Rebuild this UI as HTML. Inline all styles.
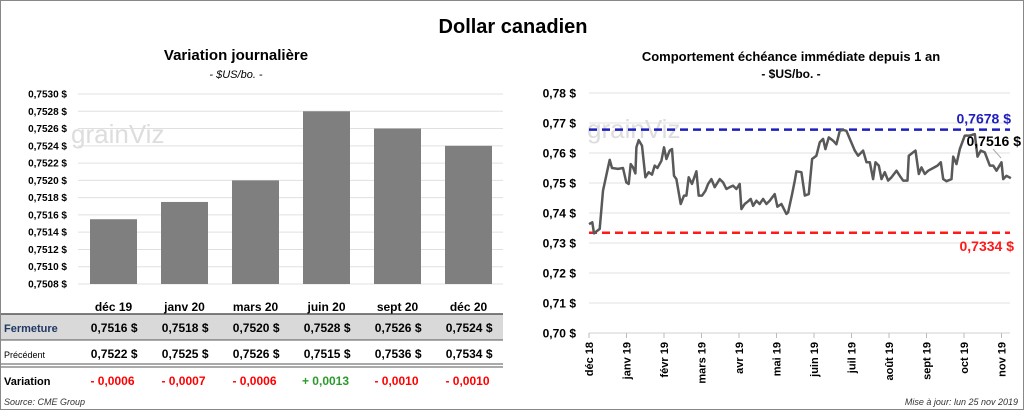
<!DOCTYPE html>
<html><head><meta charset="utf-8"><style>
body{margin:0;background:#fff;font-family:"Liberation Sans",sans-serif}
#wrap{position:relative;width:1022px;height:408px;border:1px solid #888;overflow:hidden}
svg text{font-family:"Liberation Sans",sans-serif}
</style></head><body>
<div id="wrap">
<svg id="s" width="1022" height="408" xmlns="http://www.w3.org/2000/svg">
<text x="512" y="32" text-anchor="middle" font-size="20" font-weight="bold">Dollar canadien</text>
<text x="235" y="59" text-anchor="middle" font-size="15" font-weight="bold">Variation  journalière</text>
<text x="235" y="77" text-anchor="middle" font-size="11" font-style="italic">- $US/bo. -</text>
<text x="790" y="60" text-anchor="middle" font-size="13" font-weight="bold">Comportement échéance immédiate depuis 1 an</text>
<text x="790" y="77" text-anchor="middle" font-size="12" font-weight="bold">- $US/bo. -</text>
<text x="70" y="142" font-size="26" fill="#ddd">grainViz</text>
<text x="586" y="137" font-size="26" fill="#ddd">grainViz</text>
<g id="left"></g><g id="right"></g>
<text x="3" y="404" font-size="9" font-style="italic" fill="#333">Source: CME Group</text>
<text x="1017" y="404" text-anchor="end" font-size="9" font-style="italic" fill="#333">Mise à jour: lun 25 nov 2019</text>
</svg></div>
<script>
const NS="http://www.w3.org/2000/svg";
const barCats=["déc 19","janv 20","mars 20","juin 20","sept 20","déc 20"];
const closeVals=[0.75155,0.75175,0.7520,0.7528,0.7526,0.7524];
const closeLabels=["0,7516","0,7518","0,7520","0,7528","0,7526","0,7524"];
const prevLabels=["0,7522","0,7525","0,7526","0,7515","0,7536","0,7534"];
const varLabels=["- 0,0006","- 0,0007","- 0,0006","+ 0,0013","- 0,0010","- 0,0010"];
const barTicks=[0.7508,0.7510,0.7512,0.7514,0.7516,0.7518,0.7520,0.7522,0.7524,0.7526,0.7528,0.7530];
const lineTicks=[0.70,0.71,0.72,0.73,0.74,0.75,0.76,0.77,0.78];
const monthLabels=["déc 18","janv 19","févr 19","mars 19","avr 19","mai 19","juin 19","juil 19","août 19","sept 19","oct 19","nov 19"];
const zx=[203,213,218,235,245,258,265,272,290,305,315,322,328,335,342,345,352,362,372,382,392,400,408,420,428,435,445,452,458,465,478,488,495,502,512,525,532,542,552,560,570,580,595,605,615,625,635,645,655,660,670,680,688,695,705,715,725,735,745,760,768,780,795,800,812,820,825,840,850,862,872,885,895,905,912,922,935,945,955,965,975,985,1000,1010,1025,1035,1045,1055,1062,1072,1080,1090,1100,1110,1125,1135,1145,1158,1162,1175,1182,1192,1200,1210,1220,1235,1248,1258,1265,1275,1290,1295,1305,1315,1330,1345,1360,1368,1378,1390,1405,1415,1425,1440,1445,1455,1468];
const monthPos=zx.map(v=>(v-203)/112.45);
const lineVals=[0.7363,0.7369,0.7332,0.7347,0.7474,0.7541,0.7577,0.755,0.7547,0.755,0.7502,0.7497,0.7563,0.7552,0.7532,0.7619,0.7643,0.7624,0.7519,0.7536,0.7528,0.7558,0.755,0.7574,0.7619,0.758,0.7608,0.7613,0.7524,0.7513,0.743,0.7458,0.7458,0.7519,0.7497,0.7539,0.7458,0.7458,0.7474,0.7497,0.7513,0.7486,0.7513,0.7502,0.748,0.7486,0.7491,0.748,0.7497,0.7413,0.743,0.7439,0.7447,0.7424,0.7441,0.743,0.7447,0.743,0.7441,0.7463,0.7421,0.743,0.7397,0.7402,0.7463,0.7508,0.7539,0.7536,0.7458,0.7463,0.758,0.7591,0.7636,0.7647,0.7613,0.7652,0.7641,0.7629,0.7674,0.7677,0.7674,0.7647,0.7608,0.7591,0.7608,0.7569,0.7569,0.7513,0.7569,0.7558,0.7513,0.7536,0.7508,0.7519,0.7541,0.7524,0.7508,0.7508,0.7591,0.7602,0.7608,0.753,0.7552,0.753,0.7541,0.755,0.7558,0.7569,0.7513,0.7506,0.7513,0.7588,0.7563,0.7613,0.7658,0.7658,0.7663,0.7588,0.7608,0.7602,0.7558,0.7558,0.7541,0.7569,0.7513,0.7524,0.7516];
const highVal=0.7678, lowVal=0.7334, lastVal=0.7516;
const fr=v=>v.toFixed(2).replace('.',',');
function el(t,a,p,txt){const e=document.createElementNS(NS,t);for(const k in a)e.setAttribute(k,a[k]);if(txt!==undefined)e.textContent=txt;p.appendChild(e);return e;}
// LEFT bar chart
const L=document.getElementById('left');
const ly=v=>283-(v-0.7508)/(0.7530-0.7508)*190;
const bx=i=>77+71*i+35.5;
barTicks.forEach(t=>{
 const g=el('line',{x1:77,x2:502,y1:ly(t),y2:ly(t),stroke:'#e0e0e0','stroke-width':1},L);
 
 const tx=el('text',{x:66,y:ly(t)+3.5,'text-anchor':'end','font-size':10,'font-weight':'bold'},L,t.toFixed(4).replace('.',',')+' $');
 
});
el('rect',{x:0,y:313,width:502,height:26,fill:'#d9d9d9'},L);
[[313,1.5],[339,1],[363,1],[366,1]].forEach(([y,w])=>{const l=el('line',{x1:0,x2:502,y1:y,y2:y,stroke:'#555','stroke-width':w},L);});
el('text',{x:3,y:331,'font-size':11,fill:'#1f3864','font-weight':'bold'},L,'Fermeture');
el('text',{x:3,y:357,'font-size':9},L,'Précédent');
el('text',{x:3,y:384,'font-size':11,'font-weight':'bold'},L,'Variation');
closeVals.forEach((v,i)=>{
 const r=el('rect',{x:bx(i)-23.5,y:ly(v),width:47,height:283-ly(v),fill:'#7f7f7f'},L);
 
 const c=el('text',{x:bx(i),y:310,'text-anchor':'middle','font-size':12,'font-weight':'bold'},L,barCats[i]);
 
 const a=el('text',{x:bx(i)+24,y:331,'text-anchor':'end','font-size':12,'font-weight':'bold'},L,closeLabels[i]+'  $');
 
 const b=el('text',{x:bx(i)+24,y:357,'text-anchor':'end','font-size':12,'font-weight':'bold'},L,prevLabels[i]+'  $');
 
 const d=el('text',{x:bx(i)-1,y:384,'text-anchor':'middle','font-size':12,'font-weight':'bold',fill:varLabels[i][0]=='+'?'#2a9a2a':'#ff0000'},L,varLabels[i]);
 
});
// RIGHT line chart
const R=document.getElementById('right');
const x0=588,mw=37.5;
const rx=m=>x0+m*mw;
const ry=v=>332-(v-0.70)/0.08*240;
lineTicks.forEach(t=>{
 const g=el('line',{x1:588,x2:1009,y1:ry(t),y2:ry(t),stroke:'#e0e0e0'},R);
 
 const tx=el('text',{x:575,y:ry(t)+4.5,'text-anchor':'end','font-size':12,'font-weight':'bold'},R,fr(t)+' $');
 
});
el('line',{x1:588,x2:1009,y1:332,y2:332,stroke:'#d0d0d0'},R);
monthLabels.forEach((m,i)=>{
 const x=rx(i);
 const tk=el('line',{x1:x,x2:x,y1:332,y2:337,stroke:'#bbb'},R);
 
 const t=el('text',{transform:`translate(${x+4},341) rotate(-90)`,'text-anchor':'end','font-size':11,'font-weight':'bold'},R,m);
 
});
const hl=el('line',{x1:588,x2:1009,y1:ry(highVal),y2:ry(highVal),stroke:'#1f1fbf','stroke-width':2.5,'stroke-dasharray':'8,5'},R);

const ll=el('line',{x1:588,x2:1009,y1:ry(lowVal),y2:ry(lowVal),stroke:'#ff1a1a','stroke-width':2.5,'stroke-dasharray':'8,5'},R);

const d=lineVals.map((v,i)=>(i?'L':'M')+rx(monthPos[i]).toFixed(1)+','+ry(v).toFixed(1)).join('');
const pl=el('path',{d:d,fill:'none',stroke:'#595959','stroke-width':2.5,'stroke-linejoin':'round'},R);

const ht=el('text',{x:1010,y:ry(highVal)-6,'text-anchor':'end','font-size':14,'font-weight':'bold',fill:'#1f1fbf'},R,fr(highVal).replace(/,(\d\d)$/,',$1')+'');
ht.textContent=highVal.toFixed(4).replace('.',',')+' $';

const lt=el('text',{x:1013,y:ry(lowVal)+18,'text-anchor':'end','font-size':14,'font-weight':'bold',fill:'#ff1a1a'},R,lowVal.toFixed(4).replace('.',',')+' $');

el('line',{x1:992,y1:148,x2:1000,y2:157,stroke:'#aaa'},R);
const la=el('text',{x:1020,y:145,'text-anchor':'end','font-size':14,'font-weight':'bold'},R,lastVal.toFixed(4).replace('.',',')+' $');

</script>
</body></html>
